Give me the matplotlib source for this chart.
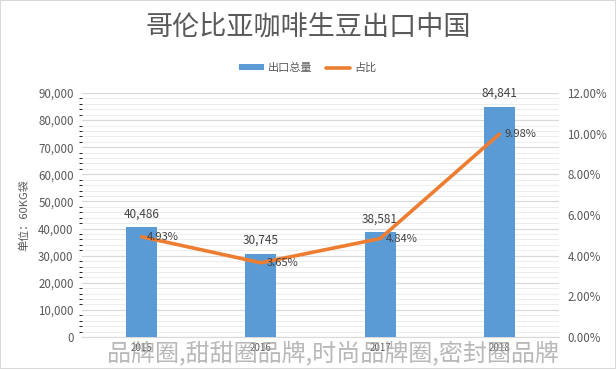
import matplotlib.pyplot as plt
from matplotlib.ticker import FuncFormatter, MultipleLocator

plt.rcParams['font.family'] = ['Noto Sans CJK SC', 'DejaVu Sans']

# 数据
years = ['2015', '2016', '2017', '2018']
volume = [40486, 30745, 38581, 84841]      # 出口总量 (60KG袋)
share = [4.93, 3.65, 4.84, 9.98]           # 占比 (%)

blue = '#5B9BD5'
orange = '#ED7D31'
grey = '#595959'

fig = plt.figure(figsize=(6.16, 3.69), dpi=100)
ax = fig.add_axes([82 / 616, 1 - 337 / 369, (559 - 82) / 616, (337 - 93) / 369])
ax2 = ax.twinx()

x = list(range(len(years)))
bars = ax.bar(x, volume, width=0.26, color=blue, zorder=3, label='出口总量')
line, = ax2.plot(x, share, color=orange, lw=2.6, solid_capstyle='round', zorder=4, label='占比')

ax.set_xlim(-0.5, 3.5)
ax.set_ylim(0, 90000)
ax2.set_ylim(0, 12)
ax.yaxis.set_major_locator(MultipleLocator(10000))
ax.yaxis.set_minor_locator(MultipleLocator(2000))
ax2.yaxis.set_major_locator(MultipleLocator(2))
ax.yaxis.set_major_formatter(FuncFormatter(lambda v, p: f'{int(v):,}'))
ax2.yaxis.set_major_formatter(FuncFormatter(lambda v, p: f'{v:.2f}%'))

ax.grid(axis='y', which='major', color='#D9D9D9', lw=0.9, zorder=0)
ax.grid(axis='y', which='minor', color='#EDEDED', lw=0.7, zorder=0)

for a in (ax, ax2):
    for s in a.spines.values():
        s.set_visible(False)
    a.tick_params(length=0, labelsize=8.3, colors=grey, pad=6)
ax.spines['bottom'].set_visible(True)
ax.spines['bottom'].set_color('#D9D9D9')
ax.set_xticks(x)
ax.set_xticklabels(years, fontsize=7)
ax.tick_params(axis='x', pad=4)

ax.set_ylabel('单位：60KG袋', fontsize=8, color=grey, labelpad=6)

# 数据标签
for xi, v in zip(x, volume):
    ax.annotate(f'{v:,}', (xi, v), xytext=(0, 5), textcoords='offset points',
                ha='center', va='bottom', fontsize=8.5, color='#404040', zorder=5)
for xi, s in zip(x, share):
    ax2.annotate(f'{s:.2f}%', (xi, s), xytext=(4, 0), textcoords='offset points',
                 ha='left', va='center', fontsize=8, color='#404040', zorder=5)

fig.text(0.5, 1 - 27 / 369, '哥伦比亚咖啡生豆出口中国', ha='center', va='center',
         fontsize=19.5, color=grey, fontweight='light')

fig.legend([bars, line], ['出口总量', '占比'], loc='center', bbox_to_anchor=(0.5, 1 - 68 / 369),
           ncol=2, frameon=False, fontsize=8, labelcolor=grey, handlelength=2.2,
           handleheight=0.5, columnspacing=1.2, handletextpad=0.4)

# 水印
fig.text(333 / 616, 1 - 354 / 369, '品牌圈,甜甜圈品牌,时尚品牌圈,密封圈品牌', ha='center', va='center',
         fontsize=17.3, color='#A0A0A0', alpha=0.75, zorder=10)

fig.patches.append(plt.Rectangle((0, 0), 1, 1, transform=fig.transFigure, fill=False,
                                 edgecolor='#D9D9D9', lw=1.5))

fig.savefig('out.png', dpi=100)
